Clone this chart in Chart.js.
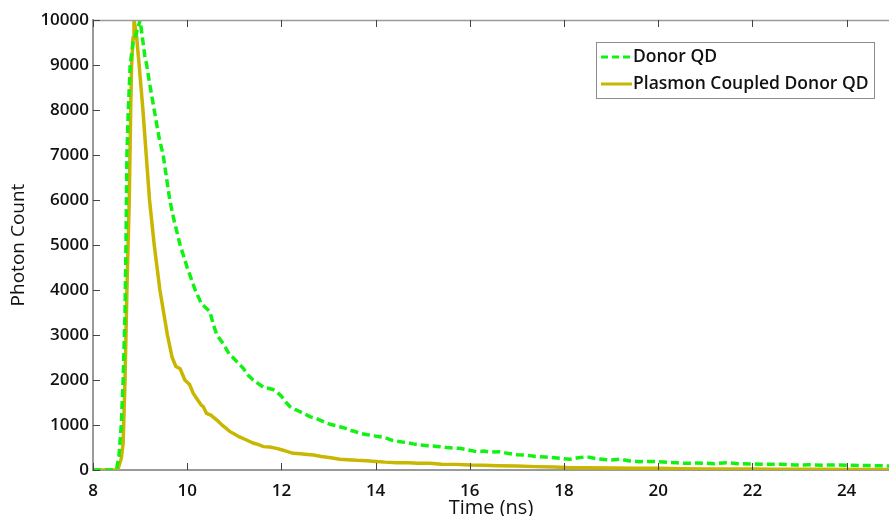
<!DOCTYPE html>
<html>
<head>
<meta charset="utf-8">
<script src="https://cdn.jsdelivr.net/npm/chart.js@4/dist/chart.umd.min.js"></script>
<style>
  html, body { margin: 0; padding: 0; background: #ffffff; }
  #wrap { width: 889px; height: 516px; position: relative; }
</style>
</head>
<body>
<div id="wrap"><canvas id="c" width="889" height="516"></canvas></div>
<script>
// ---- data ----
const seriesNames = ["Donor QD", "Plasmon Coupled Donor QD"];

const donorT = [8.0, 8.2, 8.4, 8.5, 8.55, 8.6, 8.64, 8.68, 8.7, 8.72, 8.75, 8.79, 8.85, 8.92, 9.0, 9.05, 9.1, 9.14, 9.2, 9.3, 9.4, 9.49, 9.56, 9.63, 9.72, 9.85, 10.0, 10.17, 10.3, 10.4, 10.48, 10.55, 10.63, 10.77, 10.9, 10.97, 11.08, 11.19, 11.3, 11.4, 11.55, 11.65, 11.72, 11.82, 11.9, 12.0, 12.1, 12.18, 12.3, 12.39, 12.5, 12.62, 12.72, 12.82, 12.95, 13.05, 13.15, 13.24, 13.35, 13.45, 13.55, 13.67, 13.8, 13.95, 14.09, 14.2, 14.35, 14.52, 14.65, 14.8, 14.94, 15.1, 15.25, 15.37, 15.5, 15.65, 15.79, 15.95, 16.14, 16.3, 16.45, 16.64, 16.8, 17.0, 17.2, 17.4, 17.6, 17.92, 18.13, 18.3, 18.48, 18.7, 18.98, 19.2, 19.4, 19.6, 19.8, 20.0, 20.2, 20.4, 20.6, 20.8, 21.0, 21.2, 21.45, 21.7, 22.02, 22.3, 22.6, 22.9, 23.2, 23.5, 23.8, 24.1, 24.4, 24.7, 24.9];
const donorCounts = [0, 0, 0, 20, 300, 1000, 2000, 3500, 5000, 7000, 8000, 9000, 9500, 9700, 10000, 9600, 9200, 9000, 8600, 8000, 7400, 7000, 6500, 6000, 5550, 5000, 4500, 4000, 3700, 3600, 3520, 3250, 3000, 2800, 2560, 2500, 2380, 2260, 2100, 2000, 1890, 1820, 1815, 1790, 1740, 1640, 1500, 1410, 1340, 1300, 1240, 1180, 1150, 1110, 1050, 1010, 990, 960, 930, 880, 860, 815, 790, 760, 740, 720, 660, 630, 610, 580, 556, 540, 530, 519, 500, 490, 481, 450, 407, 420, 400, 407, 370, 340, 330, 300, 290, 259, 237, 270, 296, 250, 222, 240, 200, 185, 190, 185, 170, 160, 148, 155, 150, 140, 163, 140, 133, 125, 130, 110, 115, 108, 111, 105, 100, 95, 89];

const plasmonT = [8.0, 8.3, 8.5, 8.54, 8.6, 8.64, 8.68, 8.72, 8.77, 8.8, 8.82, 8.85, 8.87, 8.92, 8.98, 9.02, 9.06, 9.13, 9.2, 9.3, 9.36, 9.42, 9.5, 9.58, 9.68, 9.76, 9.85, 9.95, 10.05, 10.13, 10.22, 10.3, 10.34, 10.41, 10.5, 10.63, 10.75, 10.91, 11.0, 11.1, 11.26, 11.4, 11.5, 11.62, 11.75, 11.9, 12.0, 12.1, 12.25, 12.4, 12.55, 12.68, 12.85, 13.05, 13.24, 13.4, 13.6, 13.81, 14.0, 14.2, 14.45, 14.7, 14.9, 15.15, 15.4, 15.7, 16.0, 16.3, 16.6, 17.0, 17.4, 17.8, 18.13, 18.5, 19.0, 19.5, 20.0, 20.5, 21.0, 21.5, 22.0, 22.5, 23.0, 23.5, 24.0, 24.5, 24.9];
const plasmonCounts = [0, 0, 0, 50, 250, 600, 2000, 4000, 6000, 8000, 9000, 9600, 10000, 9700, 9000, 8500, 8000, 7000, 6000, 5000, 4500, 4000, 3500, 3000, 2500, 2300, 2250, 2000, 1900, 1700, 1560, 1440, 1410, 1260, 1220, 1110, 990, 852, 800, 740, 667, 600, 570, 519, 510, 481, 450, 420, 370, 360, 345, 333, 300, 270, 237, 230, 215, 207, 190, 175, 163, 160, 150, 148, 130, 125, 111, 105, 95, 88, 75, 65, 52, 50, 45, 40, 37, 30, 25, 22, 20, 18, 15, 14, 12, 10, 10];

const xTicks = [8, 10, 12, 14, 16, 18, 20, 22, 24];
const yTicks = [0, 1000, 2000, 3000, 4000, 5000, 6000, 7000, 8000, 9000, 10000];
const xRange = [8, 24.9];
const yRange = [0, 10000];

// ---- build datasets ----
const toXY = (ts, vs) => ts.map((t, i) => ({ x: t, y: vs[i] }));

const GREEN = '#12f212';
const YELLOW = '#c9b600';
const FONT = "'Open Sans', 'DejaVu Sans', sans-serif";

const boxPlugin = {
  id: 'boxAndTicks',
  afterDraw(chart) {
    const { ctx, chartArea: a, scales } = chart;
    const xs = scales.x, ys = scales.y;
    ctx.save();
    // top frame line
    ctx.strokeStyle = '#9a9a9a';
    ctx.lineWidth = 1.5;
    ctx.beginPath();
    ctx.moveTo(a.left, a.top + 0.5);
    ctx.lineTo(a.right, a.top + 0.5);
    ctx.stroke();
    // inward ticks
    ctx.strokeStyle = '#444';
    ctx.lineWidth = 1;
    ctx.beginPath();
    xTicks.forEach(v => {
      const px = Math.round(xs.getPixelForValue(v)) + 0.5;
      ctx.moveTo(px, a.bottom); ctx.lineTo(px, a.bottom - 7);
      ctx.moveTo(px, a.top); ctx.lineTo(px, a.top + 7);
    });
    yTicks.forEach(v => {
      const py = Math.round(ys.getPixelForValue(v)) + 0.5;
      ctx.moveTo(a.left, py); ctx.lineTo(a.left + 7, py);
    });
    ctx.stroke();

    // legend box
    const lx = 596, ly = 42, lw = 278, lh = 56;
    ctx.fillStyle = '#ffffff';
    ctx.fillRect(lx, ly, lw, lh);
    ctx.strokeStyle = '#8c8c8c';
    ctx.lineWidth = 1;
    ctx.strokeRect(lx + 0.5, ly + 0.5, lw, lh);
    const rows = [
      { name: seriesNames[0], color: GREEN, dash: [7, 4], y: 57 },
      { name: seriesNames[1], color: YELLOW, dash: [], y: 84 }
    ];
    ctx.font = "600 17.5px " + FONT;
    ctx.textBaseline = 'middle';
    rows.forEach(r => {
      ctx.strokeStyle = r.color;
      ctx.lineWidth = 3;
      ctx.setLineDash(r.dash);
      ctx.beginPath();
      ctx.moveTo(601, r.y); ctx.lineTo(632, r.y);
      ctx.stroke();
      ctx.setLineDash([]);
      ctx.fillStyle = '#111';
      ctx.fillText(r.name, 633, r.y);
    });

    // y axis title
    ctx.save();
    ctx.translate(19, (a.top + a.bottom) / 2);
    ctx.rotate(-Math.PI / 2);
    ctx.textAlign = 'center';
    ctx.textBaseline = 'middle';
    ctx.font = "19px " + FONT;
    ctx.fillStyle = '#111';
    ctx.fillText('Photon Count', 0, 0);
    ctx.restore();

    ctx.restore();
  }
};

new Chart(document.getElementById('c'), {
  type: 'line',
  data: {
    datasets: [
      {
        label: seriesNames[0],
        data: toXY(donorT, donorCounts),
        borderColor: GREEN,
        borderWidth: 3.5,
        borderDash: [8, 4],
        pointRadius: 0,
        tension: 0,
        fill: false
      },
      {
        label: seriesNames[1],
        data: toXY(plasmonT, plasmonCounts),
        borderColor: YELLOW,
        borderWidth: 3.5,
        pointRadius: 0,
        tension: 0,
        fill: false
      }
    ]
  },
  options: {
    responsive: false,
    animation: false,
    layout: { padding: { top: 20, right: 0, left: 0, bottom: 0 } },
    plugins: { legend: { display: false }, tooltip: { enabled: false } },
    scales: {
      x: {
        type: 'linear',
        min: xRange[0], max: xRange[1],
        afterBuildTicks: s => { s.ticks = xTicks.map(v => ({ value: v })); },
        afterFit: s => { s.height = 46; },
        grid: { display: false, drawTicks: false },
        border: { display: true, color: '#9a9a9a', width: 2 },
        ticks: { padding: 11, color: '#111', font: { family: FONT, size: 17, weight: '600', lineHeight: 1.2 }, maxRotation: 0, callback: v => String(v) },
        title: { display: true, text: 'Time (ns)', color: '#111', font: { family: FONT, size: 20, lineHeight: 1.0 }, padding: { top: 0, bottom: -2 } }
      },
      y: {
        type: 'linear',
        min: yRange[0], max: yRange[1],
        afterBuildTicks: s => { s.ticks = yTicks.map(v => ({ value: v })); },
        afterFit: s => { s.width = 93; },
        grid: { display: false, drawTicks: false },
        border: { display: true, color: '#9a9a9a', width: 2 },
        ticks: { padding: 4, color: '#111', font: { family: FONT, size: 17, weight: '600' }, callback: v => String(v) }
      }
    }
  },
  plugins: [boxPlugin]
});
</script>
</body>
</html>
